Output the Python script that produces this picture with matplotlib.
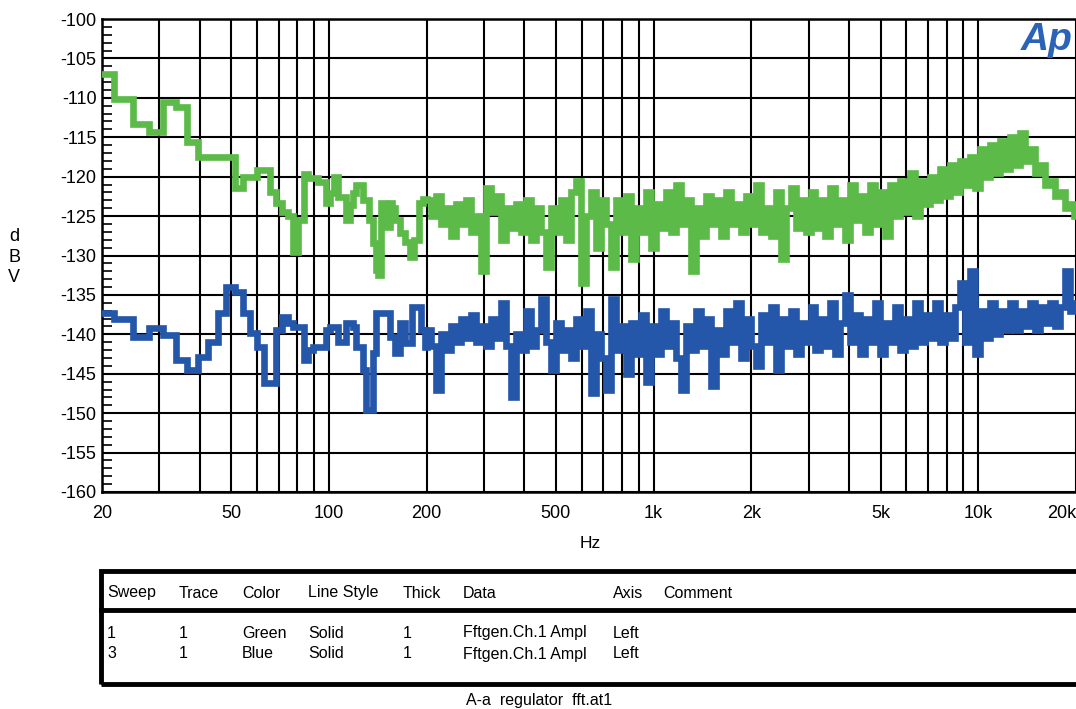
import numpy as np
import matplotlib
matplotlib.use("Agg")
import matplotlib.pyplot as plt
from matplotlib.patches import Rectangle
from matplotlib.ticker import NullLocator

plt.rcParams['font.family'] = ['Liberation Sans', 'DejaVu Sans']
plt.rcParams['axes.unicode_minus'] = False

# FFT bins below 200 Hz (one value per bin)
freq_low = [20.0, 23.4, 26.4, 29.3, 32.2, 35.2, 38.1, 41.0, 43.9, 46.9,
            49.8, 52.7, 55.7, 58.6, 61.5, 64.5, 67.4, 70.3, 73.2, 76.2,
            79.1, 82.0, 85.0, 87.9, 90.8, 93.8, 96.7, 99.6, 102.5, 105.5,
            108.4, 111.3, 114.3, 117.2, 120.1, 123.0, 126.0, 128.9, 131.8, 134.8,
            137.7, 140.6, 143.6, 146.5, 149.4, 152.3, 155.3, 158.2, 161.1, 164.1,
            167.0, 169.9, 172.9, 175.8, 178.7, 181.6, 184.6, 187.5, 190.4, 193.4,
            196.3, 199.2]

green_low = [-107, -110.2, -113.3, -114.3, -110.5, -111.2, -115.6, -117.5, -117.5, -117.5,
             -117.5, -121.4, -120, -120, -119.2, -119.2, -122, -123.4, -124.5, -125,
             -129.5, -125.5, -119.6, -120.2, -120.2, -120.7, -120.7, -123.4, -122.1, -120,
             -122.6, -122.6, -125.5, -123.6, -122.1, -121.1, -121.1, -123, -123, -125.5,
             -128.4, -131.8, -132.5, -123.4, -124.5, -126.4, -123.4, -124, -125.5, -125.5,
             -127.2, -127.2, -128.3, -128.3, -130.2, -130.2, -128, -128, -123.4, -123.4,
             -122.8, -122.8]

blue_low = [-137.3, -138, -140.4, -139.2, -140.1, -143.3, -144.5, -142.9, -141, -137.3,
            -134, -134.6, -137.3, -139.8, -141.6, -146.2, -146.2, -139.5, -137.8, -138.6,
            -139.1, -139.1, -143.3, -142, -141.6, -141.6, -141.6, -139.5, -139.1, -139.1,
            -141, -141, -138.6, -138.6, -139.1, -141.6, -141.6, -144.5, -149.6, -149.6,
            -142.4, -137.3, -137.3, -137.3, -137.3, -137.3, -140.4, -140.4, -142.4, -142.4,
            -138.6, -138.6, -141.1, -141.1, -141.1, -136.5, -136.5, -136.5, -136.5, -139.5,
            -139.5, -141.6]

# above 200 Hz the bins are too dense, so sampled points along the trace
freq_high = [203, 210, 218, 226, 234, 242, 251, 260, 269, 279,
             289, 300, 310, 322, 333, 345, 358, 371, 384, 398,
             412, 427, 442, 458, 475, 492, 510, 528, 547, 567,
             587, 608, 630, 653, 676, 701, 726, 752, 779, 807,
             836, 866, 898, 930, 963, 998, 1034, 1071, 1110, 1150,
             1191, 1234, 1279, 1325, 1372, 1422, 1473, 1526, 1581, 1638,
             1697, 1758, 1821, 1887, 1955, 2025, 2098, 2174, 2252, 2333,
             2417, 2504, 2595, 2688, 2785, 2885, 2989, 3097, 3208, 3324,
             3444, 3568, 3696, 3829, 3967, 4110, 4258, 4411, 4570, 4735,
             4905, 5082, 5265, 5455, 5651, 5855, 6066, 6284, 6511, 6745,
             6988, 7240, 7501, 7771, 8051, 8341, 8641, 8953, 9275, 9609,
             9955, 10314, 10685, 11070, 11468, 11881, 12309, 12752, 13211, 13687,
             14179, 14690, 15219, 15767, 16334, 16922, 17531, 18163, 18817, 19494,
             20000]

green_high = [-123, -125, -122.5, -126, -124, -127.5, -123.5, -126, -123, -127,
              -125, -132, -121.5, -124.5, -122.5, -128, -124, -126.5, -123.5, -127,
              -123, -128, -124, -127, -131.5, -124, -127, -123, -128, -122,
              -120.5, -133.5, -125, -122, -129, -123, -126, -131.5, -123, -127,
              -122.5, -130.5, -124, -127, -122, -129, -123.5, -126.5, -122, -127,
              -121, -126, -123, -132, -124, -127.5, -122.5, -126, -123, -127.5,
              -122, -126, -123.5, -127, -122.5, -126, -121, -127, -124, -127.5,
              -122, -130.5, -124, -121.5, -126.5, -123, -127, -122, -126.5, -123,
              -127.5, -121.5, -126, -123, -128, -121, -125.5, -122.5, -127, -121,
              -126, -122, -127.5, -121, -125, -120.5, -124.5, -119.5, -125, -120.5,
              -123.5, -120, -123, -119, -122.5, -118.5, -122, -118, -121, -117.5,
              -121.5, -116.5, -120, -116, -119.5, -115.5, -119, -115, -118.5, -114.5,
              -118, -116.5, -119.5, -118.5, -121, -120.5, -122.5, -122, -124, -123.5,
              -125]

blue_high = [-139.5, -141.5, -147, -140, -142, -139, -141, -138, -140.5, -137.5,
             -141, -139, -141.5, -138, -140.5, -136, -141.5, -148, -140, -142,
             -137, -141.5, -139.5, -135.5, -141, -144.5, -138.5, -142, -139.5, -143,
             -138, -141.5, -137, -147.5, -140, -143, -147, -135.5, -142, -139,
             -145, -138.5, -142.5, -137.5, -146, -139, -142.5, -137, -141.5, -138.5,
             -143, -147, -139, -142, -137, -141.5, -138, -146.5, -139.5, -142.5,
             -137, -141, -136, -143, -138, -141.5, -144, -137.5, -141, -136.5,
             -144.5, -138, -141.5, -137, -142.5, -138.5, -141, -136.5, -142, -138,
             -141.5, -136, -142.5, -138.5, -135, -141, -137.5, -142.5, -138, -141,
             -136, -142.5, -138.5, -141, -136.5, -142, -138, -141.5, -136, -141,
             -137.5, -140.5, -136, -141, -137.5, -140.5, -136.5, -133.5, -141, -132,
             -142.5, -137, -140.5, -136, -140, -137, -139.5, -136, -139.5, -137,
             -139, -136, -139.5, -136.5, -138.5, -136, -139, -136.5, -132, -137,
             -136]

x_labels = {20: '20', 50: '50', 100: '100', 200: '200', 500: '500',
            1000: '1k', 2000: '2k', 5000: '5k', 10000: '10k', 20000: '20k'}

table_header = ['Sweep', 'Trace', 'Color', 'Line Style', 'Thick', 'Data', 'Axis', 'Comment']
table_rows = [['1', '1', 'Green', 'Solid', '1', 'Fftgen.Ch.1 Ampl', 'Left'],
              ['3', '1', 'Blue', 'Solid', '1', 'Fftgen.Ch.1 Ampl', 'Left']]

W, H = 1076, 709
freq = np.array(freq_low + freq_high)
green = np.array(green_low + green_high)
blue = np.array(blue_low + blue_high)

fig = plt.figure(figsize=(W / 100, H / 100), dpi=100)
ax = fig.add_axes([102 / W, 1 - 492 / H, 1 - 102 / W, (492 - 19) / H])

ax.plot(freq, green, drawstyle='steps-mid', color='#5bba48', lw=4.8,
        solid_joinstyle='miter', zorder=3)
ax.plot(freq, blue, drawstyle='steps-mid', color='#2457aa', lw=4.8,
        solid_joinstyle='miter', zorder=3)

ax.set_xscale('log')
ax.set_xlim(20, 20000)
ax.set_ylim(-160, -100)

grid_f = [m * 10 ** e for e in range(1, 5) for m in range(1, 10) if 20 <= m * 10 ** e <= 20000]
ax.set_xticks(grid_f)
ax.set_xticklabels([x_labels.get(f, '') for f in grid_f])
ax.xaxis.set_minor_locator(NullLocator())
ax.get_xticklabels()[-1].set_horizontalalignment('right')

ax.set_yticks(np.arange(-160, -99, 5))
ax.set_yticks(np.arange(-160, -99, 1), minor=True)

ax.grid(True, which='major', color='black', lw=1.5)
ax.tick_params(axis='x', which='major', length=0, pad=9, labelsize=13)
ax.tick_params(axis='y', which='major', length=0, pad=4, labelsize=13)
ax.tick_params(axis='y', which='minor', direction='in', length=7, width=1.2)
for s in ['left', 'bottom', 'top']:
    ax.spines[s].set_linewidth(1.8)
ax.spines['right'].set_visible(False)

fig.text(590 / W, 1 - 543 / H, 'Hz', fontsize=12.5, ha='center', va='center')
fig.text(14 / W, 1 - 257 / H, 'd\nB\nV', fontsize=13, ha='center', va='center',
         linespacing=1.25)
fig.text(1021 / W, 1 - 40 / H, 'Ap', fontsize=28, fontweight='bold', style='italic',
         color='#2b63b9', ha='left', va='center')

# settings table under the graph
fig.patches.append(Rectangle((101 / W, 1 - 684 / H), 1.0, (684 - 571) / H,
                             transform=fig.transFigure, fill=False,
                             ec='black', lw=3.5))
fig.add_artist(plt.Line2D([101 / W, 1], [1 - 610 / H, 1 - 610 / H],
                          transform=fig.transFigure, color='black', lw=3.5))
col_x = [107, 179, 242, 308, 403, 463, 613, 663]
for cx, txt in zip(col_x, table_header):
    fig.text(cx / W, 1 - 593 / H, txt, fontsize=11.5, ha='left', va='center')
for ry, row in zip([633, 654], table_rows):
    for cx, txt in zip(col_x, row):
        fig.text(cx / W, 1 - ry / H, txt, fontsize=11.5, ha='left', va='center')

fig.text(539 / W, 1 - 701 / H, 'A-a  regulator  fft.at1', fontsize=11.5,
         ha='center', va='center')

fig.savefig('out.png', dpi=100)
